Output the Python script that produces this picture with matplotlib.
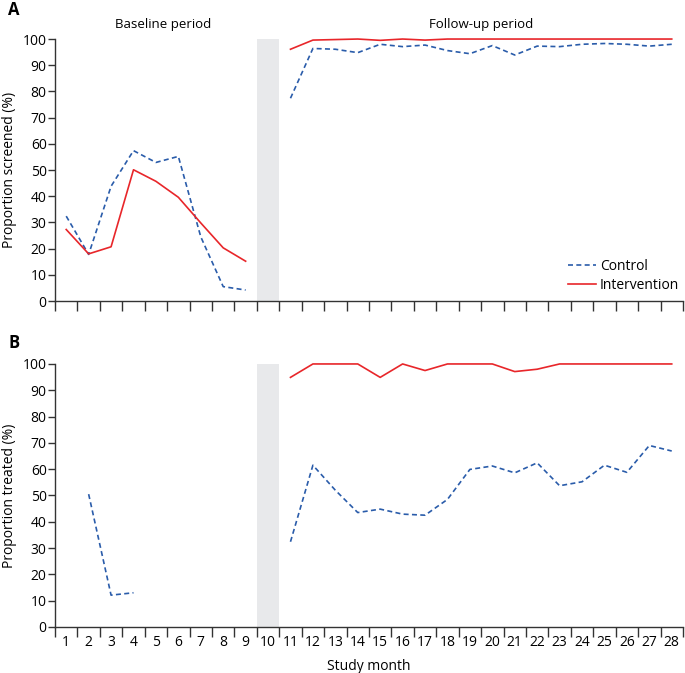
import numpy as np
import matplotlib.pyplot as plt

plt.rcParams['font.family'] = ['Open Sans', 'DejaVu Sans']

# ============================================
# 数据
# ============================================
months = np.arange(1, 29)
nan = np.nan

screen_control = [32.4, 17.8, 43.8, 57.4, 52.9, 55.2, 24.5, 5.5, 4.2, nan,
                  77.4, 96.4, 96.1, 94.8, 98.0, 97.1, 97.7, 95.6, 94.4, 97.5,
                  93.9, 97.3, 97.1, 98.0, 98.3, 98.0, 97.3, 98.0]
screen_interv = [27.3, 18.0, 20.7, 50.1, 45.7, 39.6, 29.8, 20.3, 15.2, nan,
                 96.1, 99.6, 99.8, 100, 99.5, 100, 99.6, 100, 100, 100,
                 100, 100, 100, 100, 100, 100, 100, 100]

treat_control = [nan, 50.5, 12.1, 13.0, nan, nan, nan, nan, nan, nan,
                 32.4, 61.5, 52.0, 43.5, 44.8, 42.9, 42.5, 48.5, 59.9, 61.2,
                 58.6, 62.4, 53.7, 55.2, 61.5, 58.8, 69.0, 66.9]
treat_interv = [nan] * 10 + [94.9, 100, 100, 100, 94.9, 100, 97.5, 100, 100, 100,
                             97.1, 98.0, 100, 100, 100, 100, 100, 100]

BLUE = '#2a5caa'
RED = '#e8262a'
GREY = '#e8e9eb'
SPINE = '#333333'

fig = plt.figure(figsize=(6.85, 6.73), dpi=100)
axA = fig.add_axes([0.0803, 0.5527, 0.9167, 0.3893])
axB = fig.add_axes([0.0803, 0.0684, 0.9167, 0.3908])


def style_axis(ax, ylabel, show_xlabels):
    ax.axvspan(9.5, 10.5, color=GREY, lw=0, zorder=0)
    ax.set_xlim(0.5, 28.5)
    ax.set_ylim(0, 100)
    ax.set_yticks(np.arange(0, 101, 10))
    ax.set_xticks(months)
    ax.set_xticks(np.arange(0.5, 28.6, 1), minor=True)
    if show_xlabels:
        ax.set_xticklabels([str(m) for m in months])
    else:
        ax.set_xticklabels([])
    ax.tick_params(axis='x', which='major', length=0, pad=6, labelsize=10)
    ax.tick_params(axis='x', which='minor', length=7, width=1, color=SPINE, direction='out')
    ax.tick_params(axis='y', length=5, width=1, color=SPINE, labelsize=10, pad=1)
    for s in ['top', 'right']:
        ax.spines[s].set_visible(False)
    for s in ['left', 'bottom']:
        ax.spines[s].set_color(SPINE)
        ax.spines[s].set_linewidth(1)
    ax.set_ylabel(ylabel, fontsize=10, labelpad=4)


axA.plot(months, screen_control, color=BLUE, ls=(0, (3, 2)), lw=1.2, label='Control', clip_on=False)
axA.plot(months, screen_interv, color=RED, lw=1.2, label='Intervention', clip_on=False)
style_axis(axA, 'Proportion screened (%)', False)
axA.legend(loc='lower right', frameon=False, fontsize=10, handlelength=2.0,
           handletextpad=0.3, borderaxespad=0.1, labelspacing=0.3,
           bbox_to_anchor=(1.005, 0.003))
axA.text(5.3, 103, 'Baseline period', ha='center', va='bottom', fontsize=9.5)
axA.text(19.5, 103, 'Follow-up period', ha='center', va='bottom', fontsize=9.5)

axB.plot(months, treat_control, color=BLUE, ls=(0, (3, 2)), lw=1.2, clip_on=False)
axB.plot(months, treat_interv, color=RED, lw=1.2, clip_on=False)
style_axis(axB, 'Proportion treated (%)', True)
axB.set_xlabel('Study month', fontsize=10, labelpad=6)

fig.text(0.012, 0.998, 'A', fontsize=12, fontweight='bold', va='top')
fig.text(0.012, 0.503, 'B', fontsize=12, fontweight='bold', va='top')

plt.savefig('out.png', dpi=100)
